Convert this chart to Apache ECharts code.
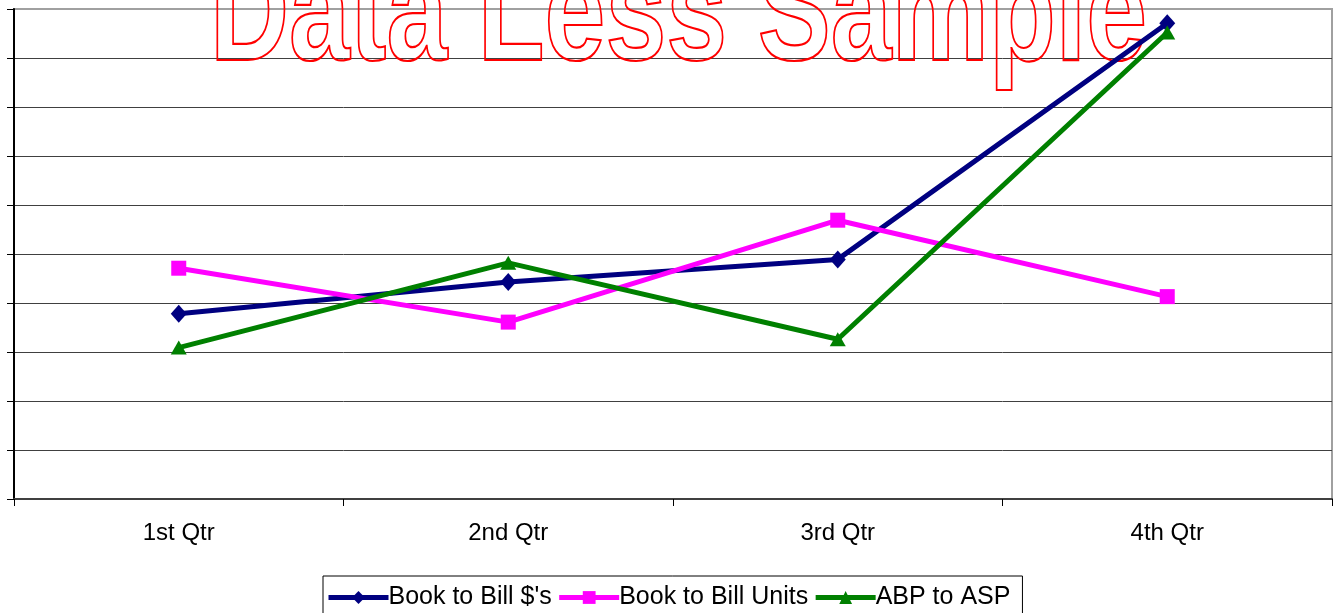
<!DOCTYPE html>
<html>
<head>
<meta charset="utf-8">
<script src="https://cdn.jsdelivr.net/npm/echarts@6/dist/echarts.min.js"></script>
<style>
html,body{margin:0;padding:0;background:#fff;}
#chart{width:1341px;height:613px;}
</style>
</head>
<body>
<div id="chart"></div>
<script>
var categories = ['1st Qtr', '2nd Qtr', '3rd Qtr', '4th Qtr'];
var bookToBillDollars = [3.78, 4.43, 4.89, 9.71];
var bookToBillUnits = [4.71, 3.61, 5.69, 4.13];
var abpToAsp = [3.09, 4.82, 3.26, 9.52];
var seriesNames = ["Book to Bill $'s", 'Book to Bill Units', 'ABP to ASP'];
var watermarkText = 'Data Less Sample';

var FONT = '"Liberation Sans", Arial, sans-serif';
var chart = echarts.init(document.getElementById('chart'));

var gridColors = [];
for (var i = 0; i < 10; i++) gridColors.push('#404040');
gridColors.push('#a0a0a0');

function mkSeries(name, data, color, symbol, size) {
  return {
    name: name,
    type: 'line',
    data: data,
    symbol: symbol,
    symbolSize: size,
    showSymbol: true,
    lineStyle: { color: color, width: 5 },
    itemStyle: { color: color },
    z: 3,
    animation: false
  };
}

chart.setOption({
  animation: false,
  backgroundColor: '#fff',
  grid: {
    left: 14, right: 9, top: 9, bottom: 114,
    show: true, borderColor: '#a0a0a0', borderWidth: 2, backgroundColor: 'transparent'
  },
  graphic: [{
    type: 'text',
    z: 1,
    x: 210,
    y: 93,
    scaleX: 0.755,
    style: {
      text: watermarkText,
      font: 'bold 145px ' + FONT,
      fill: 'transparent',
      stroke: '#ff0000',
      lineWidth: 2.2,
      textAlign: 'left',
      textVerticalAlign: 'bottom'
    }
  }],
  legend: {
    left: 323,
    top: 576,
    itemWidth: 60,
    itemHeight: 16,
    itemGap: 5,
    padding: [9, 12, 8, 3],
    borderColor: '#000',
    borderWidth: 1,
    lineStyle: { width: 5 },
    textStyle: { fontFamily: FONT, fontSize: 25, color: '#000', padding: [0, 0, 0, -5] },
    data: seriesNames
  },
  xAxis: {
    type: 'category',
    data: categories,
    boundaryGap: true,
    axisLine: { show: true, lineStyle: { color: '#404040', width: 2 } },
    axisTick: { show: true, length: 7, inside: false, lineStyle: { color: '#000' } },
    axisLabel: { fontFamily: FONT, fontSize: 24, color: '#000', margin: 22 },
    splitLine: { show: false }
  },
  yAxis: {
    type: 'value',
    min: 0, max: 10, interval: 1,
    axisLine: { show: true, lineStyle: { color: '#000', width: 2 } },
    axisTick: { show: true, length: 7, inside: false, lineStyle: { color: '#000' } },
    axisLabel: { show: false },
    splitLine: { show: true, lineStyle: { color: gridColors, width: 1 } }
  },
  series: [
    mkSeries(seriesNames[0], bookToBillDollars, '#000080', 'diamond', [16, 18]),
    mkSeries(seriesNames[1], bookToBillUnits, '#ff00ff', 'rect', 15),
    mkSeries(seriesNames[2], abpToAsp, '#008000', 'triangle', [16, 14])
  ]
});
</script>
</body>
</html>
